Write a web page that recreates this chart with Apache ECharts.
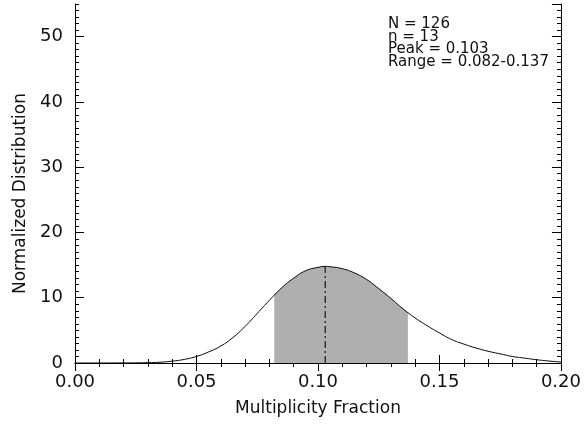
<!DOCTYPE html>
<html>
<head>
<meta charset="utf-8">
<script src="https://cdn.jsdelivr.net/npm/echarts@6/dist/echarts.min.js"></script>
<style>
  html, body { margin: 0; padding: 0; background: #fff; }
  #chart { width: 584px; height: 426px; }
</style>
</head>
<body>
<div id="chart"></div>
<script>
// multiplicity fraction grid and the normalized distribution
const fracX = [0, 0.01, 0.02, 0.03, 0.035, 0.04, 0.045, 0.05, 0.055, 0.06, 0.065, 0.07, 0.075, 0.08,
  0.085, 0.09, 0.095, 0.1, 0.103, 0.105, 0.11, 0.115, 0.12, 0.125, 0.13, 0.135, 0.14, 0.145, 0.15,
  0.155, 0.16, 0.165, 0.17, 0.175, 0.18, 0.185, 0.19, 0.195, 0.2]
const density = [0, 0, 0.01, 0.05, 0.12, 0.28, 0.55, 1.0, 1.7, 2.6, 3.9, 5.6, 7.6, 9.6,
  11.5, 13.0, 14.15, 14.65, 14.8, 14.75, 14.45, 13.8, 12.8, 11.4, 9.9, 8.3, 6.9, 5.7, 4.6,
  3.6, 2.9, 2.3, 1.8, 1.4, 1.0, 0.75, 0.5, 0.3, 0.15]

const nTotal = 126
const nComp = 13
const peakFrac = 0.103
const peakDensity = 14.8
const rangeLo = 0.082
const rangeHi = 0.137
const rangeLoDensity = 10.4
const rangeHiDensity = 7.8

const fontFam = 'DejaVu Sans'
const ink = '#111'

const curve = fracX.map((x, i) => [x, density[i]])
const shaded = [[rangeLo, rangeLoDensity]]
  .concat(curve.filter(p => p[0] > rangeLo && p[0] < rangeHi))
  .concat([[rangeHi, rangeHiDensity]])

const axisLine = { show: true, lineStyle: { color: '#000', width: 1 } }

const option = {
  animation: false,
  backgroundColor: '#fff',
  grid: { left: 75, right: 23, top: 4, bottom: 63 },
  xAxis: [
    {
      type: 'value', min: 0, max: 0.2, interval: 0.05,
      position: 'bottom',
      axisLine: axisLine,
      axisTick: { inside: true, length: 8, lineStyle: { color: '#000' } },
      minorTick: { show: true, splitNumber: 5, length: 4, lineStyle: { color: '#000' } },
      splitLine: { show: false },
      axisLabel: {
        margin: 10, fontSize: 18, fontFamily: fontFam, color: ink,
        formatter: v => v.toFixed(2)
      },
      name: 'Multiplicity Fraction',
      nameLocation: 'middle',
      nameGap: 37,
      nameTextStyle: { fontSize: 17, fontFamily: fontFam, color: ink }
    },
    {
      type: 'value', min: 0, max: 0.2, interval: 0.05,
      position: 'top',
      axisLine: axisLine,
      axisTick: { inside: true, length: 8, lineStyle: { color: '#000' } },
      minorTick: { show: true, splitNumber: 5, length: 4, lineStyle: { color: '#000' } },
      splitLine: { show: false },
      axisLabel: { show: false }
    }
  ],
  yAxis: [
    {
      type: 'value', min: 0, max: 55, interval: 10,
      position: 'left',
      axisLine: axisLine,
      axisTick: { inside: true, length: 9, lineStyle: { color: '#000' } },
      splitLine: { show: false },
      axisLabel: {
        margin: 12, fontSize: 18, fontFamily: fontFam, color: ink,
        showMaxLabel: false
      },
      name: 'Normalized Distribution',
      nameLocation: 'middle',
      nameGap: 45,
      nameTextStyle: { fontSize: 17, fontFamily: fontFam, color: ink, padding: [0, 20, 0, 0] }
    },
    {
      // minor ticks, one per unit
      type: 'value', min: 0, max: 55, interval: 1,
      position: 'left',
      axisLine: { show: false },
      axisTick: { inside: true, length: 4, lineStyle: { color: '#000' } },
      splitLine: { show: false },
      axisLabel: { show: false }
    },
    {
      type: 'value', min: 0, max: 55, interval: 10,
      position: 'right',
      axisLine: axisLine,
      axisTick: { inside: true, length: 9, lineStyle: { color: '#000' } },
      splitLine: { show: false },
      axisLabel: { show: false }
    },
    {
      type: 'value', min: 0, max: 55, interval: 1,
      position: 'right',
      axisLine: { show: false },
      axisTick: { inside: true, length: 4, lineStyle: { color: '#000' } },
      splitLine: { show: false },
      axisLabel: { show: false }
    }
  ],
  graphic: [
    {
      type: 'text',
      left: 388,
      top: 17,
      style: {
        text: `N = ${nTotal}\nn = ${nComp}\nPeak = ${peakFrac}\nRange = ${rangeLo}-${rangeHi}`,
        fontSize: 15,
        fontFamily: fontFam,
        lineHeight: 12.5,
        fill: ink
      }
    }
  ],
  series: [
    {
      name: 'range',
      type: 'line',
      data: shaded,
      smooth: 0.5,
      symbol: 'none',
      lineStyle: { width: 0 },
      areaStyle: { color: '#afafaf', opacity: 1 },
      z: 1
    },
    {
      name: 'distribution',
      type: 'line',
      data: curve,
      smooth: 0.5,
      symbol: 'none',
      lineStyle: { color: '#000', width: 1 },
      z: 3
    },
    {
      name: 'peak',
      type: 'line',
      data: [[peakFrac, 0], [peakFrac, peakDensity]],
      symbol: 'none',
      lineStyle: { color: '#333', width: 1.5, type: [7, 3, 2, 3] },
      z: 2
    }
  ]
}

const chart = echarts.init(document.getElementById('chart'))
chart.setOption(option)
</script>
</body>
</html>
